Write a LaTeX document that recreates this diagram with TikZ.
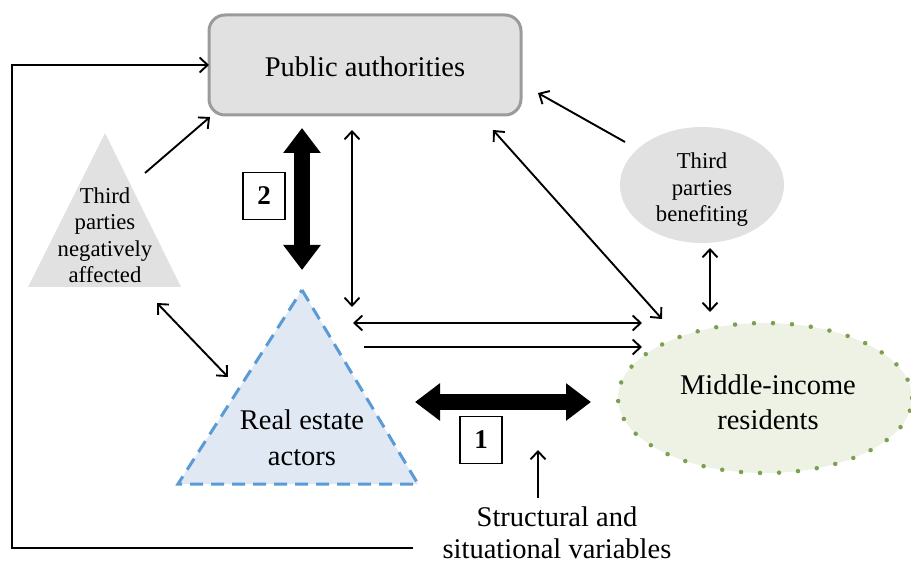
\documentclass[tikz,border=0pt]{standalone}
\usepackage{fontspec}
\setmainfont{Liberation Serif}
\usetikzlibrary{arrows.meta,shapes.geometric}
\definecolor{boxfill}{HTML}{E1E1E1}
\definecolor{boxline}{HTML}{9B9B9B}
\definecolor{bluefill}{HTML}{DFE8F3}
\definecolor{blueline}{HTML}{5B9BD5}
\definecolor{greenfill}{HTML}{EEF2E5}
\definecolor{greenline}{HTML}{7BA050}
\tikzset{
  bigtext/.style={font=\fontsize{28.5}{34}\selectfont, align=center, inner sep=0pt},
  smalltext/.style={font=\fontsize{22.7}{26.5}\selectfont, align=center, inner sep=0pt},
  thinarrow/.style={line width=1.9pt, -{Straight Barb[length=8pt,width=15pt]}},
  thinboth/.style={line width=1.9pt, {Straight Barb[length=8pt,width=15pt]}-{Straight Barb[length=8pt,width=15pt]}},
  thickboth/.style={line width=16pt, {Triangle[length=25pt,width=36pt]}-{Triangle[length=25pt,width=36pt]}},
  numbox/.style={draw, line width=1.5pt, minimum width=42pt, minimum height=47pt, inner sep=0pt, font=\fontsize{27}{30}\selectfont\bfseries},
}
\begin{document}
\begin{tikzpicture}[x=1pt,y=-1pt]
\useasboundingbox (0,0) rectangle (911,564);
% Public authorities
\node[draw=boxline, fill=boxfill, line width=3pt, rounded corners=16pt,
      minimum width=312pt, minimum height=100pt] (pa) at (365,65) {};
\node[bigtext] (pat) at (365,67) {Public authorities};
% Third parties negatively affected
\path[fill=boxfill] (105,133) -- (181,287) -- (28,287) -- cycle;
\node[smalltext] (tpn) at (105,235) {Third\\parties\\negatively\\affected};
% Real estate actors
\path[fill=bluefill, draw=blueline, line width=3pt, dash pattern=on 13pt off 8pt]
  (302,290) -- (418,484) -- (178,484) -- cycle;
\node[bigtext, font=\fontsize{28.5}{36}\selectfont] (rea) at (302,438) {Real estate\\actors};
% Middle-income residents
\node[ellipse, fill=greenfill, draw=greenline, line width=4.5pt, line cap=round,
      dash pattern=on 0pt off 19pt, minimum width=294pt, minimum height=150pt] (mir) at (765,398) {};
\node[bigtext, font=\fontsize{28.5}{35}\selectfont] (mirt) at (768,402) {Middle-income\\residents};
% Third parties benefiting
\node[fill=boxfill, ellipse, minimum width=164pt, minimum height=116pt, inner sep=0pt] (tpb) at (702,185) {};
\node[smalltext] (tpbt) at (702,190) {Third\\parties\\benefiting};
% Structural and situational variables
\node[bigtext, font=\fontsize{28.5}{32}\selectfont] (sv) at (557,533) {Structural and\\situational variables};
% number boxes
\node[numbox] (n2) at (264,196) {2};
\node[numbox] (n1) at (481,440) {1};
% connector endpoints
\coordinate (fbs) at (413,548);
\coordinate (fbc1) at (12,548);
\coordinate (fbc2) at (12,65);
\coordinate (fbe) at (209,65);
\coordinate (tpnA) at (145,173);
\coordinate (paA) at (210,117);
\coordinate (a2t) at (302,128);
\coordinate (a2b) at (302,270);
\coordinate (vt) at (352,130);
\coordinate (vb) at (352,307);
\coordinate (tpnB) at (157,303);
\coordinate (reaB) at (228,377);
\coordinate (h1l) at (353,323);
\coordinate (h1r) at (642,323);
\coordinate (h2l) at (364,347);
\coordinate (h2r) at (642,347);
\coordinate (a1l) at (415,402);
\coordinate (a1r) at (591,402);
\coordinate (svt) at (538,498);
\coordinate (svh) at (538,450);
\coordinate (paD) at (493,130);
\coordinate (mirD) at (662,319);
\coordinate (tpbA) at (625,142);
\coordinate (paB) at (538,93);
\coordinate (tpbB) at (710,248);
\coordinate (mirB) at (710,312);
% connectors
\draw[thinarrow] (fbs) -- (fbc1) -- (fbc2) -- (fbe);
\draw[thinarrow] (tpnA) -- (paA);
\draw[thickboth] (a2t) -- (a2b);
\draw[thinboth] (vt) -- (vb);
\draw[thinboth] (tpnB) -- (reaB);
\draw[thinboth] (h1l) -- (h1r);
\draw[thinarrow] (h2l) -- (h2r);
\draw[thickboth] (a1l) -- (a1r);
\draw[thinarrow] (svt) -- (svh);
\draw[thinboth] (paD) -- (mirD);
\draw[thinarrow] (tpbA) -- (paB);
\draw[thinboth] (tpbB) -- (mirB);
\end{tikzpicture}
\end{document}
